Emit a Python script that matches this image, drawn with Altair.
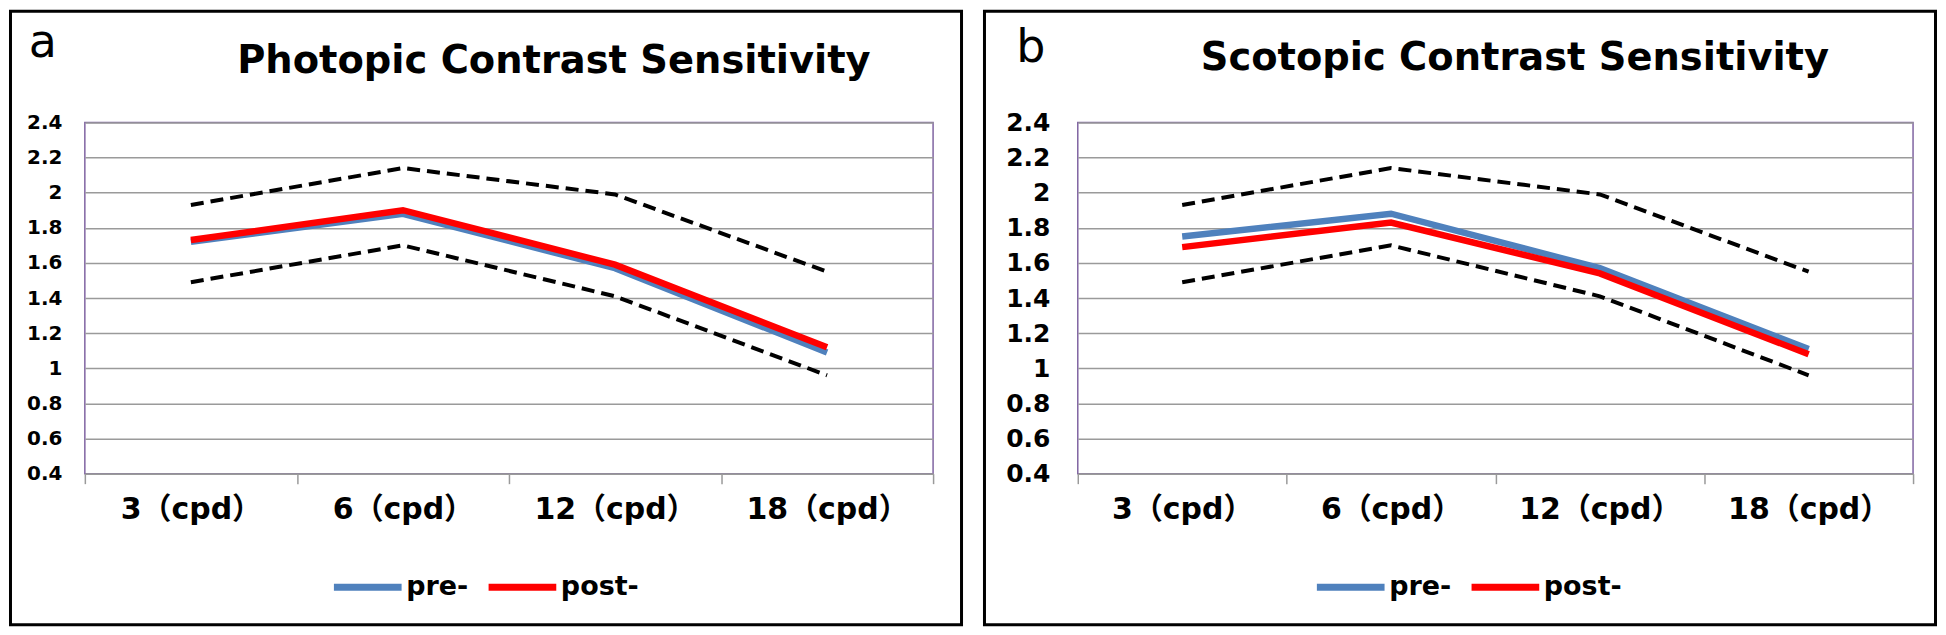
import altair as alt
import pandas as pd

categories = ["3（cpd）", "6（cpd）", "12（cpd）", "18（cpd）"]
upper_norm = [1.93, 2.14, 1.99, 1.55]
lower_norm = [1.49, 1.70, 1.41, 0.96]

photopic_pre = [1.72, 1.88, 1.57, 1.09]
photopic_post = [1.73, 1.90, 1.59, 1.12]
scotopic_pre = [1.75, 1.88, 1.57, 1.11]
scotopic_post = [1.69, 1.83, 1.54, 1.08]

series_names = ["pre-", "post-"]
series_colors = ["#4F81BD", "#FF0000"]
y_ticks = [0.4, 0.6, 0.8, 1.0, 1.2, 1.4, 1.6, 1.8, 2.0, 2.2, 2.4]

FONT = "DejaVu Sans"
LABEL_FONT = "DejaVu Sans, Noto Sans CJK SC"


def panel(title, letter, pre, post, width, ylab_size, ylab_pad,
          border, title_pos, letter_pos, legend_xy):
    main = pd.DataFrame({
        "freq": categories * 2,
        "value": pre + post,
        "series": ["pre-"] * 4 + ["post-"] * 4,
    })
    norms = pd.DataFrame({
        "freq": categories * 2,
        "value": upper_norm + lower_norm,
        "bound": ["upper"] * 4 + ["lower"] * 4,
    })

    x_enc = alt.X(
        "freq:N", sort=categories, bandPosition=0.5,
        scale=alt.Scale(type="band", paddingInner=0, paddingOuter=0),
        axis=alt.Axis(title=None, labelAngle=0, tickBand="extent", grid=False,
                      domainColor="#9a9a9a", domainWidth=1.5,
                      tickColor="#9a9a9a", tickWidth=1.5, tickSize=10,
                      labelFont=LABEL_FONT, labelFontSize=30, labelFontWeight="bold",
                      labelColor="black", labelPadding=11),
    )
    y_enc = alt.Y(
        "value:Q", scale=alt.Scale(domain=[0.4, 2.4], nice=False, zero=False),
        axis=alt.Axis(title=None, values=y_ticks, format=".1~f", grid=True,
                      gridColor="#9a9a9a", gridWidth=1.5, domain=False, ticks=False,
                      labelFont=FONT, labelFontSize=ylab_size, labelFontWeight="bold",
                      labelColor="black", labelPadding=ylab_pad),
    )

    deco = pd.DataFrame({"t": [title]})
    letter_df = pd.DataFrame({"t": [letter]})

    frame = alt.Chart(deco).mark_rect(
        fill="transparent", stroke="black", strokeWidth=3
    ).encode(
        x=alt.value(border[0]), x2=alt.value(border[1]),
        y=alt.value(border[2]), y2=alt.value(border[3]),
    )
    title_mark = alt.Chart(deco).mark_text(
        font=FONT, fontSize=38.5, fontWeight="bold", color="black",
        align="center", baseline="alphabetic",
    ).encode(x=alt.value(title_pos[0]), y=alt.value(title_pos[1]), text="t:N")
    letter_mark = alt.Chart(letter_df).mark_text(
        font=FONT, fontSize=46, fontWeight="normal", color="black",
        align="center", baseline="alphabetic",
    ).encode(x=alt.value(letter_pos[0]), y=alt.value(letter_pos[1]), text="t:N")

    dashed = alt.Chart(norms).mark_line(
        color="black", strokeWidth=4, strokeDash=[13, 7]
    ).encode(x=x_enc, y=y_enc, detail="bound:N")

    lines = alt.Chart(main).mark_line(strokeWidth=6.5).encode(
        x=x_enc, y=y_enc,
        color=alt.Color(
            "series:N",
            scale=alt.Scale(domain=series_names, range=series_colors),
            legend=alt.Legend(
                title=None, orient="none", legendX=legend_xy[0], legendY=legend_xy[1],
                direction="horizontal", symbolType="stroke", symbolSize=4600,
                symbolStrokeWidth=7, labelFont=FONT, labelFontSize=27,
                labelFontWeight="bold", labelColor="black", labelOffset=1,
                columnPadding=5, padding=0,
            ),
        ),
        order=alt.Order("series_order:Q"),
    ).transform_calculate(series_order="datum.series == 'pre-' ? 0 : 1")

    return alt.layer(frame, dashed, lines, title_mark, letter_mark).properties(
        width=width, height=352
    )


left = panel("Photopic Contrast Sensitivity", "a", photopic_pre, photopic_post,
             width=850, ylab_size=20, ylab_pad=23,
             border=(-74.5, 878.5, -111.5, 503.5),
             title_pos=(470, -50), letter_pos=(-42, -66), legend_xy=(246, 428))
right = panel("Scotopic Contrast Sensitivity", "b", scotopic_pre, scotopic_post,
              width=837, ylab_size=25, ylab_pad=28,
              border=(-93.5, 859.5, -111.5, 503.5),
              title_pos=(438, -53), letter_pos=(-47, -61), legend_xy=(236, 428))

chart = alt.hconcat(left, right, spacing=18).resolve_scale(
    color="independent"
).resolve_legend(color="independent").properties(
    padding=0, background="white"
).configure_view(stroke="#8064A2", strokeWidth=1.5)

chart.save("out.html", embed_options={"renderer": "svg", "actions": False})
